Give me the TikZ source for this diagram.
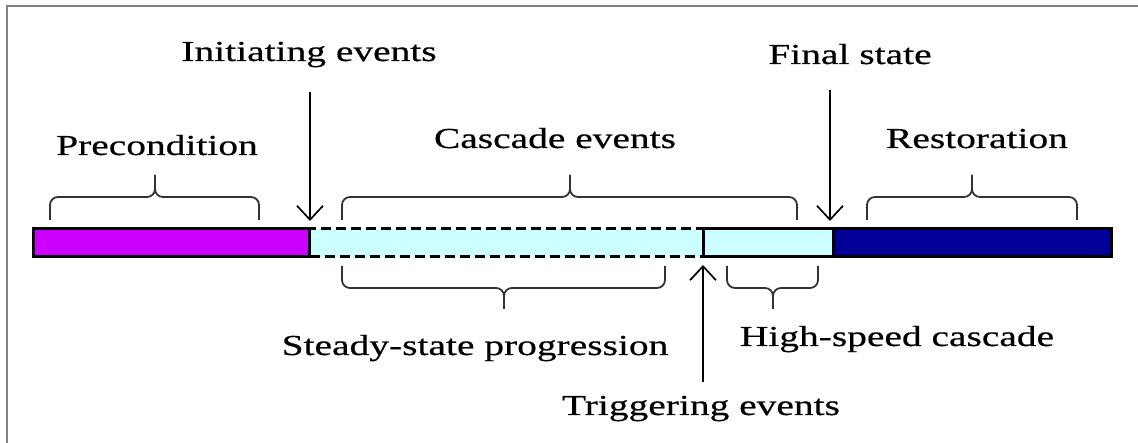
\documentclass[tikz,border=0pt]{standalone}
\usepackage{fontspec}
\setmainfont{Liberation Serif}[FakeStretch=1.36,FakeBold=0.5]
\usetikzlibrary{arrows.meta}
\definecolor{prec}{RGB}{204,0,255}
\definecolor{casc}{RGB}{204,255,255}
\definecolor{rest}{RGB}{0,0,153}
\newcommand\upbrc[3]{%
  \draw[brc] (#1,220) -- (#1,197) -- (#3,197) -- (#3,175);
  \draw[brc] (#2,220) -- (#2,197) -- (#3,197) -- (#3,175);}
\newcommand\dnbrc[3]{%
  \draw[brc] (#1,266) -- (#1,288) -- (#3,288) -- (#3,309);
  \draw[brc] (#2,266) -- (#2,288) -- (#3,288) -- (#3,309);}
\begin{document}
\begin{tikzpicture}[x=1pt,y=-1pt,
  lbl/.style={inner sep=0pt,anchor=base,font=\fontsize{29}{35}\selectfont},
  seg/.style={draw=black,line width=3pt,minimum height=28pt,inner sep=0pt,anchor=west},
  brc/.style={draw=black!80,line width=1.8pt,rounded corners=8pt},
  arr/.style={draw=black,line width=1.7pt,-{Straight Barb[length=14pt,width=26pt,line width=1.7pt]}}]
\useasboundingbox (0,0) rectangle (1138,443);
\fill[white] (0,0) rectangle (1138,443);
\draw[gray,line width=2pt] (7,443) -- (7,6) -- (1138,6);
% bar segments
\node[seg,fill=casc,dashed,dash pattern=on 10pt off 5pt,minimum width=394pt] (steady) at (308,243) {};
\node[seg,fill=prec,minimum width=276pt] (pre) at (32,243) {};
\node[seg,fill=casc,minimum width=130pt] (fast) at (702,243) {};
\node[seg,fill=rest,minimum width=278pt] (restb) at (832,243) {};
% labels
\node[lbl] (tinit) at (309,61) {Initiating events};
\node[lbl] (tpre) at (157,155) {Precondition};
\node[lbl] (tcasc) at (555,148) {Cascade events};
\node[lbl] (tfinal) at (850,64) {Final state};
\node[lbl] (trest) at (977,148) {Restoration};
\node[lbl] (tsteady) at (475,355) {Steady-state progression};
\node[lbl] (thigh) at (897,346) {High-speed cascade};
\node[lbl] (ttrig) at (701,415) {Triggering events};
% arrows
\coordinate (ia) at (310,92);
\coordinate (ib) at (310,221);
\coordinate (fa) at (830,90);
\coordinate (fb) at (830,221);
\coordinate (ta) at (703,382);
\coordinate (tb) at (703,265);
\draw[arr] (ia) -- (ib);
\draw[arr] (fa) -- (fb);
\draw[arr] (ta) -- (tb);
% braces
\upbrc{50}{259}{155}
\upbrc{342}{797}{570}
\upbrc{867}{1077}{972}
\dnbrc{342}{665}{504}
\dnbrc{727}{818}{773}
\end{tikzpicture}
\end{document}
